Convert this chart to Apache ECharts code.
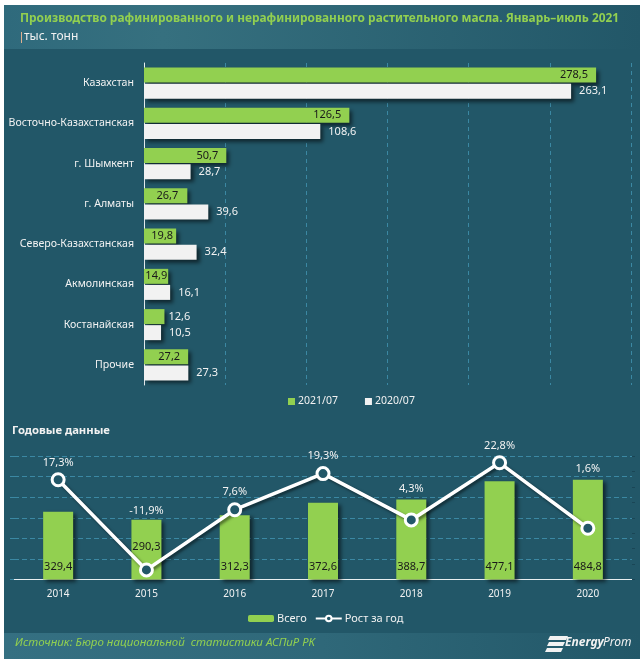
<!DOCTYPE html>
<html>
<head>
<meta charset="utf-8">
<style>
html,body{margin:0;padding:0;background:#fff;}
#chart{width:643px;height:666px;}
</style>
<script src="https://cdn.jsdelivr.net/npm/echarts@6/dist/echarts.min.js"></script>
</head>
<body>
<div id="chart"></div>
<script>
// верхний график
var regions=['Казахстан','Восточно-Казахстанская','г. Шымкент','г. Алматы','Северо-Казахстанская','Акмолинская','Костанайская','Прочие'];
var values2021=[278.5,126.5,50.7,26.7,19.8,14.9,12.6,27.2];
var values2020=[263.1,108.6,28.7,39.6,32.4,16.1,10.5,27.3];
// нижний график
var years=['2014','2015','2016','2017','2018','2019','2020'];
var totals=[329.4,290.3,312.3,372.6,388.7,477.1,484.8];
var growth=[17.3,-11.9,7.6,19.3,4.3,22.8,1.6];

var green='#92d050';
var white='#f2f2f2';
var font='"Noto Sans"';

function comma(v){
    return String(v).replace('.',',');
}
// подписи 2015 и роста стояли вручную
var totalLabelOffset=[0,-20,0,0,0,0,0];
var growthLabelOffset=[1,-41,0,0,-13,1,-41];
var topLabelDistance=[8,8,8,9,3,1,4,8];

var barData=[];
var lineData=[];
for(var i=0;i<years.length;i++){
    barData.push({value:totals[i],label:{offset:[0,totalLabelOffset[i]]}});
    lineData.push({value:growth[i],label:{offset:[0,growthLabelOffset[i]]}});
}
// у коротких столбцов подпись не влезает
var top2021=[];
for(var j=0;j<regions.length;j++){
    var item={value:values2021[j],label:{distance:topLabelDistance[j]}};
    if(regions[j]=='Костанайская'){
        item.label.position='right';
        item.label.color=white;
    }
    top2021.push(item);
}

var myChart=echarts.init(document.getElementById('chart'));
var option={
    animation:false,
    backgroundColor:'#fff',
    textStyle:{fontFamily:font},
    graphic:[
        {type:'rect',z:-10,shape:{x:4,y:5,width:636,height:654},style:{fill:'#225768'}},
        {type:'rect',z:-9,shape:{x:4,y:5,width:636,height:44},style:{fill:new echarts.graphic.LinearGradient(0,0,1,0,[
            {offset:0,color:'#2f6a7c'},{offset:0.25,color:'#36707f'},{offset:1,color:'#225768'}])}},
        {type:'rect',z:-9,shape:{x:4,y:633,width:636,height:26},style:{fill:new echarts.graphic.LinearGradient(0,0,1,0,[
            {offset:0,color:'#357082'},{offset:0.5,color:'#2f6879'},{offset:1,color:'#225768'}])}},
        {type:'text',left:20,top:13,style:{text:'Производство рафинированного и нерафинированного растительного масла. Январь–июль 2021',fill:green,font:'bold 11.9px "Noto Sans"'}},
        {type:'rect',shape:{x:21,y:32,width:1,height:11},style:{fill:'#e0b090'}},
        {type:'text',left:24,top:31,style:{text:'тыс. тонн',fill:'#f2f2f2',font:'12px "Noto Sans"'}},
        {type:'text',left:12,top:425,style:{text:'Годовые данные',fill:'#f2f2f2',font:'bold 11.3px "Noto Sans"'}},
        {type:'text',left:15,top:637,style:{text:'Источник: Бюро национальной  статистики АСПиР РК',fill:green,font:'italic 11.5px "Noto Sans"'}},
        {type:'polygon',shape:{points:[[550,636],[568,636],[566,640],[548,640]]},style:{fill:'#f2f2f2'}},
        {type:'polygon',shape:{points:[[549,642],[565,642],[563,646],[547,646]]},style:{fill:'#f2f2f2'}},
        {type:'polygon',shape:{points:[[547,648],[563,648],[561,652],[545,652]]},style:{fill:'#f2f2f2'}},
        {type:'text',left:565,top:637,style:{text:'Energy',fill:'#f2f2f2',font:'italic bold 12px "Noto Sans"'}},
        {type:'text',left:603,top:637,style:{text:'Prom',fill:'#f2f2f2',font:'italic 12px "Noto Sans"'}}
    ],
    legend:[
        {
            data:['2021/07','2020/07'],
            left:283,top:391,itemWidth:7,itemHeight:7,itemGap:27,
            icon:'rect',
            textStyle:{color:'#f2f2f2',fontSize:10.5,fontFamily:font,padding:[0,0,0,-2]}
        },
        {
            data:['Всего','Рост за год'],
            left:243,top:608,itemGap:8,itemHeight:7,itemWidth:26,
            textStyle:{color:'#f2f2f2',fontSize:11,fontFamily:font,padding:[0,0,0,-2]}
        }
    ],
    grid:[
        {left:144,top:63,width:487,height:322},
        {left:14,top:456,width:618,height:123.5}
    ],
    xAxis:[
        {
            gridIndex:0,type:'value',min:0,max:300,interval:50,
            axisLabel:{show:false},axisLine:{show:false},axisTick:{show:false},
            splitLine:{show:true,lineStyle:{color:'#3b88a3',type:[4,4],width:1}}
        },
        {
            gridIndex:1,type:'category',data:years,
            axisLine:{show:true,lineStyle:{color:'#e8eef0',width:1}},
            axisTick:{show:false},
            axisLabel:{color:'#f2f2f2',fontSize:10,fontFamily:font,margin:10}
        }
    ],
    yAxis:[
        {
            gridIndex:0,type:'category',data:regions,inverse:true,
            axisLine:{show:true,lineStyle:{color:'#e8eef0',width:1}},
            axisTick:{show:false},
            axisLabel:{color:'#f2f2f2',fontSize:10.6,fontFamily:font,margin:10}
        },
        {
            gridIndex:1,type:'value',min:0,max:600,interval:100,
            axisLabel:{show:false},axisLine:{show:false},
            axisTick:{show:true,length:4,lineStyle:{color:'#3b88a3'}},
            splitLine:{show:true,lineStyle:{color:'#3b88a3',type:[5,3],width:1}}
        },
        {
            gridIndex:1,type:'value',min:-15,max:25,interval:5,position:'right',
            axisLabel:{show:false},axisLine:{show:false},
            axisTick:{show:true,length:3,lineStyle:{color:'#1a4656'}},
            splitLine:{show:false}
        }
    ],
    series:[
        {
            name:'2021/07',type:'bar',xAxisIndex:0,yAxisIndex:0,data:top2021,
            barWidth:15,barGap:'7%',
            itemStyle:{color:green,shadowColor:'rgba(0,0,0,0.55)',shadowBlur:4,shadowOffsetX:3,shadowOffsetY:3},
            label:{show:true,position:'insideRight',color:'#1a1a1a',fontSize:11,fontFamily:font,
                formatter:function(p){return comma(p.value);}}
        },
        {
            name:'2020/07',type:'bar',xAxisIndex:0,yAxisIndex:0,data:values2020,
            barWidth:15,barGap:'7%',
            itemStyle:{color:white,shadowColor:'rgba(0,0,0,0.55)',shadowBlur:4,shadowOffsetX:3,shadowOffsetY:3},
            label:{show:true,position:'right',distance:8,color:'#f2f2f2',fontSize:11,fontFamily:font,
                formatter:function(p){return comma(p.value);}}
        },
        {
            name:'Всего',type:'bar',xAxisIndex:1,yAxisIndex:1,data:barData,
            barWidth:30,
            itemStyle:{color:green,shadowColor:'rgba(0,0,0,0.55)',shadowBlur:4,shadowOffsetX:3,shadowOffsetY:2},
            label:{show:true,position:'insideBottom',distance:7,color:'#1a1a1a',fontSize:11,fontFamily:font,
                formatter:function(p){return comma(p.value);}}
        },
        {
            name:'Рост за год',type:'line',xAxisIndex:1,yAxisIndex:2,data:lineData,
            symbol:'circle',symbolSize:12,
            lineStyle:{color:'#fff',width:3.5,shadowColor:'rgba(0,0,0,0.5)',shadowBlur:3,shadowOffsetX:2,shadowOffsetY:2},
            itemStyle:{color:'#225768',borderColor:'#fff',borderWidth:3},
            label:{show:true,position:'top',distance:5,color:'#f2f2f2',fontSize:11,fontFamily:font,
                formatter:function(p){return comma(p.value)+'%';}}
        }
    ]
};
myChart.setOption(option);
</script>
</body>
</html>
